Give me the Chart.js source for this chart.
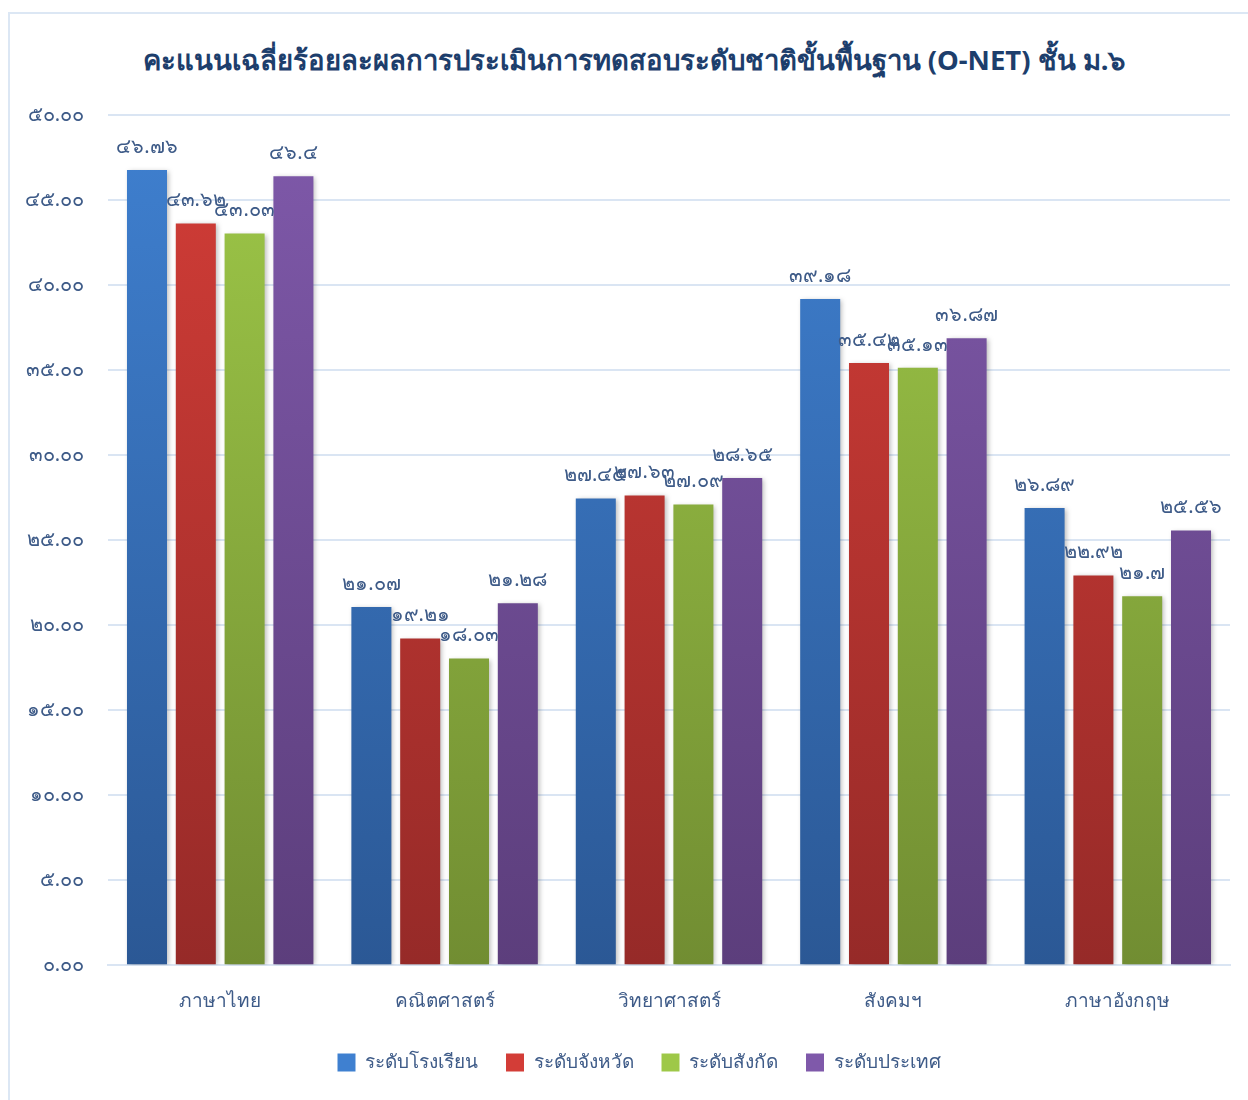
<html>
<head>
<meta charset="utf-8">
<script src="https://cdn.jsdelivr.net/npm/chart.js"></script>
<style>
  body { margin: 0; background: #fff; overflow: hidden; }
  .frame { position: absolute; left: 8px; top: 12px; width: 1260px; height: 1110px; border: 2px solid #dce7f4; box-sizing: border-box; }
  .box { position: absolute; left: 10px; top: 14px; width: 1238px; height: 1086px; }
  .title { position: absolute; left: 0; top: 38px; width: 1268px; text-align: center;
           font: bold 27.5px "Noto Sans", "DejaVu Sans", sans-serif; color: #1d3e6c; }
</style>
</head>
<body>
<div class="frame"></div>
<div class="title">คะแนนเฉลี่ยร้อยละผลการประเมินการทดสอบระดับชาติขั้นพื้นฐาน (O-NET) ชั้น ม.๖</div>
<div class="box"><canvas id="onet"></canvas></div>
<script>
const subjects = ['ภาษาไทย', 'คณิตศาสตร์', 'วิทยาศาสตร์', 'สังคมฯ', 'ภาษาอังกฤษ'];
const seriesNames = ['ระดับโรงเรียน', 'ระดับจังหวัด', 'ระดับสังกัด', 'ระดับประเทศ'];
const schoolScores = [46.76, 21.07, 27.45, 39.18, 26.89];
const provinceScores = [43.62, 19.21, 27.63, 35.42, 22.92];
const affiliationScores = [43.03, 18.03, 27.09, 35.13, 21.7];
const nationScores = [46.4, 21.28, 28.65, 36.87, 25.56];
// top / bottom colours of each bar gradient
const topColors = ['#3f80d0', '#d33d37', '#9ec848', '#7f59aa'];
const bottomColors = ['#2b5895', '#962a28', '#718d32', '#5c3e7c'];

const thaiDigits = '๐๑๒๓๔๕๖๗๘๙';
function toThai(s) {
    return String(s).replace(/[0-9]/g, d => thaiDigits[+d]);
}

function grad(i) {
    return function(ctx) {
        const area = ctx.chart.chartArea;
        if (!area) return topColors[i];
        const g = ctx.chart.ctx.createLinearGradient(0, area.top, 0, area.bottom);
        g.addColorStop(0, topColors[i]);
        g.addColorStop(1, bottomColors[i]);
        return g;
    };
}

const allScores = [schoolScores, provinceScores, affiliationScores, nationScores];
const numFont = '"Noto Sans", "DejaVu Sans", sans-serif';

const barShadow = {
    id: 'barShadow',
    beforeDatasetDraw(chart) {
        const c = chart.ctx;
        c.save();
        c.shadowColor = 'rgba(0,0,0,0.28)';
        c.shadowBlur = 5;
        c.shadowOffsetX = 2;
        c.shadowOffsetY = 1;
    },
    afterDatasetDraw(chart) {
        chart.ctx.restore();
    }
};

const valueLabels = {
    id: 'valueLabels',
    afterDatasetsDraw(chart) {
        const c = chart.ctx;
        c.save();
        c.font = '20px ' + numFont;
        c.fillStyle = '#3e5b88';
        c.textAlign = 'center';
        c.textBaseline = 'bottom';
        chart.data.datasets.forEach((ds, i) => {
            chart.getDatasetMeta(i).data.forEach((bar, j) => {
                c.fillText(toThai(ds.data[j]), bar.x, bar.y - 13);
            });
        });
        c.restore();
    }
};

// nudge the legend a little to the right, like the original
const legendShift = {
    id: 'legendShift',
    afterLayout(chart) {
        if (chart.legend) {
            chart.legend.left += 19;
            chart.legend.right += 19;
        }
    }
};

new Chart(document.getElementById('onet'), {
    type: 'bar',
    data: {
        labels: subjects,
        datasets: allScores.map((d, i) => ({
            label: seriesNames[i],
            data: d,
            backgroundColor: grad(i),
            categoryPercentage: 0.87,
            barPercentage: 0.82
        }))
    },
    plugins: [barShadow, valueLabels, legendShift],
    options: {
        responsive: true,
        maintainAspectRatio: false,
        animation: false,
        layout: { padding: { left: 0, right: 18, top: 101, bottom: 18 } },
        scales: {
            y: {
                min: 0, max: 50,
                afterFit: s => { s.width = 98; },
                ticks: {
                    stepSize: 5,
                    padding: 24,
                    color: '#3e5b88',
                    font: { size: 20, family: numFont },
                    callback: v => toThai(v.toFixed(2))
                },
                grid: { color: '#dae5f3', lineWidth: 2, drawTicks: false },
                border: { display: false }
            },
            x: {
                afterFit: s => { s.height -= 13; },
                ticks: {
                    color: '#3e5b88',
                    padding: 25,
                    font: { size: 19, family: '"Noto Sans", "DejaVu Sans", sans-serif' }
                },
                grid: { display: false, drawTicks: false },
                border: { color: '#dae5f3', width: 2 }
            }
        },
        plugins: {
            legend: {
                position: 'bottom',
                labels: {
                    color: '#3e5b88',
                    boxWidth: 18,
                    boxHeight: 18,
                    padding: 28,
                    font: { size: 19, family: '"Noto Sans", "DejaVu Sans", sans-serif' },
                    generateLabels: chart => seriesNames.map((n, i) => ({
                        text: n,
                        fillStyle: topColors[i],
                        strokeStyle: topColors[i],
                        lineWidth: 0,
                        fontColor: '#3e5b88',
                        datasetIndex: i
                    }))
                }
            },
            tooltip: { enabled: false }
        }
    }
});
</script>
</body>
</html>
